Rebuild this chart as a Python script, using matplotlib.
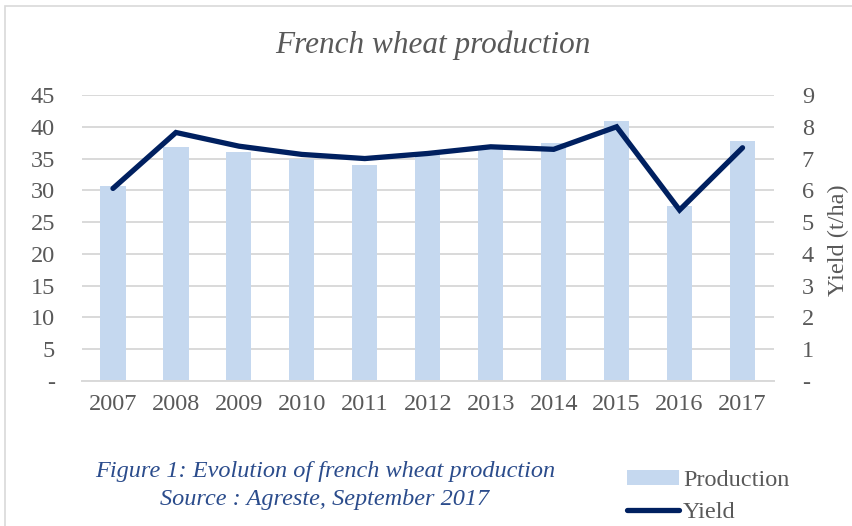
"""
French wheat production: bars for production (left axis), line for yield (right axis).
"""

import matplotlib.pyplot as plt
from matplotlib.patches import Rectangle
from matplotlib.lines import Line2D
from matplotlib.patches import Patch

years = ["2007", "2008", "2009", "2010", "2011", "2012",
         "2013", "2014", "2015", "2016", "2017"]
production = [30.7, 36.8, 36.1, 35.0, 34.0, 35.5, 36.7, 37.5, 40.9, 27.5, 37.7]
yield_t_ha = [6.06, 7.82, 7.39, 7.13, 7.00, 7.16, 7.37, 7.29, 8.00, 5.38, 7.34]

left_ticks = [0, 5, 10, 15, 20, 25, 30, 35, 40, 45]
right_ticks = [0, 1, 2, 3, 4, 5, 6, 7, 8, 9]

BAR = "#C5D8EF"
LINE = "#002060"
GRID = "#D9D9D9"
TXT = "#595959"
CAPTION = "#2B4C8C"
FONT = "Liberation Serif"
FS = 17.5

plt.rcParams["font.family"] = FONT

fig = plt.figure(figsize=(8.52, 5.26), dpi=100)

# light frame of the chart area (top/left edge visible)
fig.patches.append(Rectangle((5 / 852, -0.1), 1.2, 1 - 6 / 526 + 0.1,
                             transform=fig.transFigure, fill=False,
                             edgecolor=GRID, linewidth=1.2))

ax = fig.add_axes([81.5 / 852, 1 - 381 / 526, (774 - 81.5) / 852, (381 - 95) / 526])
x = list(range(len(years)))
ax.bar(x, production, width=0.4, color=BAR, zorder=2)
ax.set_xlim(-0.5, len(years) - 0.5)
ax.set_ylim(0, 45)
ax.set_yticks(left_ticks)
ax.set_yticklabels(["-" if t == 0 else str(t) for t in left_ticks])
ax.set_xticks(x)
ax.set_xticklabels(years)
ax.grid(axis="y", color=GRID, linewidth=1.4, zorder=0)
ax.set_axisbelow(True)
for s in ["top", "left", "right"]:
    ax.spines[s].set_visible(False)
ax.spines["bottom"].set_color(GRID)
ax.spines["bottom"].set_linewidth(1.4)
ax.tick_params(axis="y", length=0, pad=19, labelsize=FS, labelcolor=TXT)
ax.tick_params(axis="x", length=0, pad=9, labelsize=FS, labelcolor=TXT)

ax2 = ax.twinx()
ax2.plot(x, yield_t_ha, color=LINE, linewidth=3.8, solid_capstyle="round",
         solid_joinstyle="miter", zorder=3)
ax2.set_ylim(0, 9)
ax2.set_yticks(right_ticks)
ax2.set_yticklabels(["-" if t == 0 else str(t) for t in right_ticks])
for s in ["top", "left", "right", "bottom"]:
    ax2.spines[s].set_visible(False)
ax2.tick_params(axis="y", length=0, pad=20, labelsize=FS, labelcolor=TXT)

fig.text(838 / 852, 1 - 240 / 526, "Yield (t/ha)", rotation=90, ha="center",
         va="center", fontsize=FS, color=TXT)

fig.text(433 / 852, 1 - 45 / 526, "French wheat production", ha="center",
         va="center", fontsize=22.5, style="italic", color=TXT)

fig.text(325 / 852, 1 - 472 / 526, "Figure 1: Evolution of french wheat production",
         ha="center", va="center", fontsize=17.5, style="italic", color=CAPTION)
fig.text(325 / 852, 1 - 499 / 526, "Source : Agreste, September 2017",
         ha="center", va="center", fontsize=17.5, style="italic", color=CAPTION)

handles = [Patch(facecolor=BAR, edgecolor="none"),
           Line2D([0], [0], color=LINE, linewidth=3.8, solid_capstyle="round")]
fig.legend(handles, ["Production", "Yield"], loc="upper left",
           bbox_to_anchor=(627 / 852, 1 - 470 / 526), frameon=False,
           fontsize=FS, labelcolor=TXT, handlelength=2.15, handleheight=0.6,
           handletextpad=0.15, labelspacing=0.42, borderaxespad=0, borderpad=0)

fig.savefig("out.png", dpi=100)
